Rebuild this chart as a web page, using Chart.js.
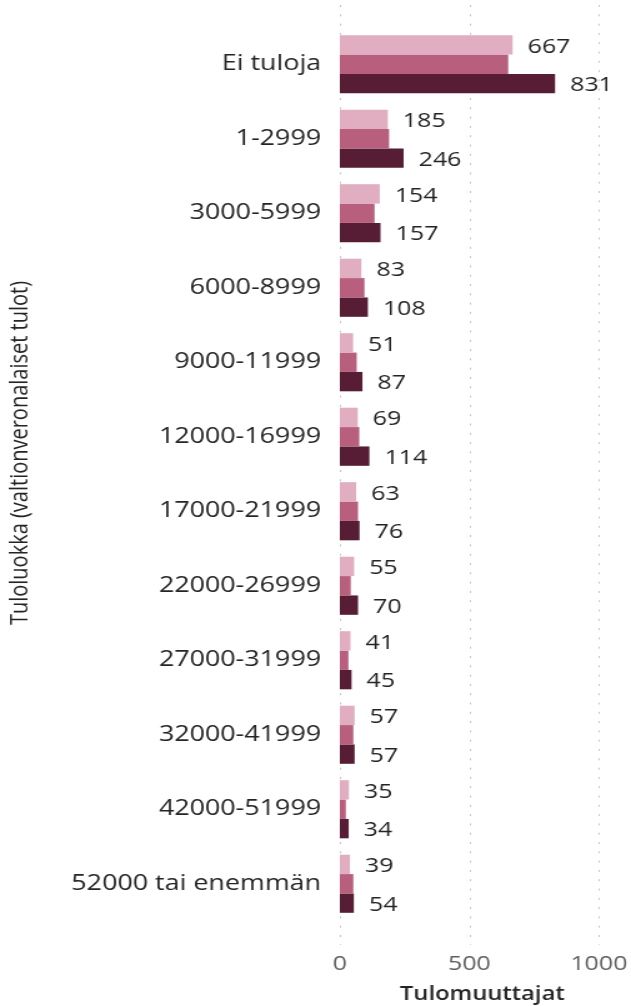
<!DOCTYPE html>
<html>
<head>
<meta charset="utf-8">
<script src="https://cdn.jsdelivr.net/npm/chart.js@4/dist/chart.umd.min.js"></script>
<style>
  html, body { margin: 0; padding: 0; background: #fff; }
  #chart { display: block; }
</style>
</head>
<body>
<canvas id="chart" width="505" height="1006" style="width:631px;height:1006px"></canvas>
<script>
// income classes (y axis)
var categories = ['Ei tuloja', '1-2999', '3000-5999', '6000-8999', '9000-11999', '12000-16999',
    '17000-21999', '22000-26999', '27000-31999', '32000-41999', '42000-51999', '52000 tai enemmän'];
// three series, light -> dark
var seriesLight = [667, 185, 154, 83, 51, 69, 63, 55, 41, 57, 35, 39];
var seriesMid = [650, 190, 134, 95, 65, 75, 70, 42, 33, 52, 23, 52];
var seriesDark = [831, 246, 157, 108, 87, 114, 76, 70, 45, 57, 34, 54];
var xTicks = [0, 500, 1000];

var FONT = "'Open Sans', 'Noto Sans', sans-serif";
var Y_TITLE = 'Tuloluokka (valtionveronalaiset tulot)';

// dotted vertical grid lines, a bit longer than the plot area
var dottedGrid = {
    id: 'dottedGrid',
    beforeDatasetsDraw: function (chart) {
        var ctx = chart.ctx;
        var xs = chart.scales.x;
        ctx.save();
        ctx.strokeStyle = '#c8c6c4';
        ctx.lineWidth = 1;
        ctx.setLineDash([2, 7.3]);
        xTicks.forEach(function (v) {
            var x = Math.round(xs.getPixelForValue(v)) + 0.5;
            ctx.beginPath();
            ctx.moveTo(x, 5);
            ctx.lineTo(x, 945);
            ctx.stroke();
        });
        ctx.restore();
    }
};

// value labels for the light and dark bars only, plus the y axis title
var barLabels = {
    id: 'barLabels',
    afterDatasetsDraw: function (chart) {
        var ctx = chart.ctx;
        ctx.save();
        ctx.font = '20px ' + FONT;
        ctx.fillStyle = '#252423';
        ctx.textAlign = 'left';
        ctx.textBaseline = 'middle';
        [0, 2].forEach(function (di) {
            var meta = chart.getDatasetMeta(di);
            var data = chart.data.datasets[di].data;
            meta.data.forEach(function (bar, i) {
                ctx.fillText(data[i], bar.x + 12, bar.y + 2);
            });
        });
        ctx.translate(16, 453);
        ctx.rotate(-Math.PI / 2);
        ctx.textAlign = 'center';
        ctx.fillText(Y_TITLE, 0, 0);
        ctx.restore();
    }
};

var ctx = document.getElementById('chart').getContext('2d');
new Chart(ctx, {
    type: 'bar',
    data: {
        labels: categories,
        datasets: [
            { label: 'Sarja 1', data: seriesLight, backgroundColor: '#e0adc1' },
            { label: 'Sarja 2', data: seriesMid, backgroundColor: '#b95f7e' },
            { label: 'Sarja 3', data: seriesDark, backgroundColor: '#561d35' }
        ]
    },
    options: {
        indexAxis: 'y',
        responsive: false,
        animation: false,
        devicePixelRatio: 1,
        categoryPercentage: 0.78,
        barPercentage: 1,
        layout: { padding: { top: 27, right: 5, bottom: 0, left: 0 } },
        plugins: {
            legend: { display: false },
            tooltip: { enabled: false }
        },
        scales: {
            x: {
                min: 0,
                max: 1100,
                grid: { display: false },
                border: { display: false },
                afterBuildTicks: function (scale) {
                    scale.ticks = xTicks.map(function (v) { return { value: v }; });
                },
                afterFit: function (scale) {
                    scale.height = 85;
                    scale.paddingLeft = 0;
                    scale.paddingRight = 0;
                },
                ticks: {
                    padding: 23,
                    color: '#605e5c',
                    font: { family: FONT, size: 20 },
                    callback: function (v) { return String(v); }
                },
                title: {
                    display: true,
                    text: 'Tulomuuttajat',
                    color: '#252423',
                    padding: { top: 0, bottom: 0 },
                    font: { family: FONT, size: 19, weight: '600' }
                }
            },
            y: {
                grid: { display: false },
                border: { display: false },
                afterFit: function (scale) { scale.width = 272; },
                ticks: {
                    padding: 7,
                    color: '#252423',
                    font: { family: FONT, size: 21.5 }
                }
            }
        }
    },
    plugins: [dottedGrid, barLabels]
});
</script>
</body>
</html>
